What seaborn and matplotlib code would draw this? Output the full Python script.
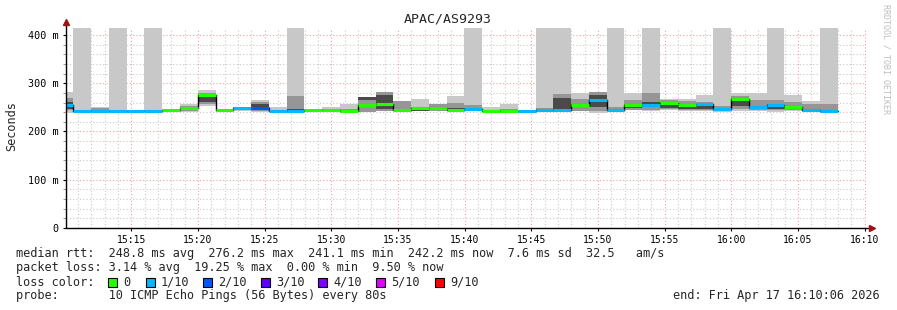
import numpy as np
import pandas as pd
import matplotlib
matplotlib.use("Agg")
import matplotlib.pyplot as plt
import matplotlib.dates as mdates
from matplotlib.patches import Rectangle
from matplotlib.ticker import MultipleLocator, FuncFormatter
import seaborn as sns

# ---------------- data ----------------
interval_start = pd.date_range("2026-04-17 15:09:19", periods=44, freq="80s")
step = pd.Timedelta(seconds=80)
view_start = pd.Timestamp("2026-04-17 15:10:06")
view_end = pd.Timestamp("2026-04-17 16:10:06")

median_ms = [254, 242, 242, 242, 242, 242, 244, 248, 276, 244, 248, 249, 243, 243,
             244, 244.5, 243, 255.5, 258, 244.5, 248, 248, 245, 247, 243, 243, 243.5, 245,
             245, 255, 264.5, 245, 254, 255, 259, 255, 256, 247, 266.5, 251, 255, 250,
             245, 242.5]
loss_pings = [1, 1, 1, 1, 1, 1, 0, 0, 0, 0, 1, 2, 1, 1, 0, 0, 0, 0, 0, 0, 0, 0,
              0, 1, 0, 0, 1, 1, 1, 0, 1, 1, 0, 1, 0, 0, 1, 1, 0, 1, 1, 0, 1, 1]
ping_min = [239, 240, 240, 240, 240, 240, 241, 241, 253, 241, 243, 241, 241, 241,
            242, 242, 241, 240, 242, 243, 242, 242, 242, 242, 241, 241, 241, 241,
            241, 243, 239, 241, 244, 242, 244, 242, 242, 241, 243, 242, 241, 243,
            241, 240]
ping_max = [281, 900, 250, 900, 244, 900, 246, 256, 285, 246, 251, 265, 250, 900,
            246, 250, 257, 272, 282, 264, 267, 256, 274, 900, 250, 257, 244, 900,
            900, 280, 281, 900, 279, 900, 268, 267, 276, 900, 279, 279, 900, 276,
            264, 900]
mid_lo = [244, 241, 241, 241, 241, 241, 242, 243, 258, 242, 244, 243, 242, 242,
          243, 243, 242, 241, 242, 243, 242, 242, 242, 243, 242, 242, 241.5, 242,
          242, 243, 242, 242, 245, 244, 246, 245, 245, 243, 247, 245, 244, 245,
          243, 241]
mid_hi = [270, 243, 248, 243, 243, 243, 245, 252, 280, 245, 250, 262, 245, 273,
          245, 247, 246, 272, 282, 264, 251, 256, 260, 255, 245, 246, 243.5, 248,
          278, 268, 281, 250, 265, 280, 265, 263, 262, 252, 274, 266, 265, 262,
          257, 256]
core_lo = [246, 241, 241, 241, 241, 241, 243, 244, 262, 243, 245, 245, 242, 242,
           243, 243, 242, 265, 246, 244, 243, 244, 244, 244, 242, 242, 242, 243,
           243, 250, 250, 243, 248, 250, 248, 247, 247, 244, 252, 246, 246, 246,
           243, 241]
core_hi = [262, 242, 243, 242, 242, 242, 244, 249, 276, 244, 248, 256, 243, 246,
           244, 245, 244, 271, 276, 246, 246, 250, 248, 248, 243, 244, 243, 246,
           270, 258, 276, 246, 256, 262, 259, 256, 257, 248, 270, 252, 256, 251,
           246, 243]

loss_labels = ["0", "1/10", "2/10", "3/10", "4/10", "5/10", "9/10"]
loss_colors = ["#26ff00", "#00b8ff", "#0059ff", "#5e00ff", "#7e00ff", "#dd00ff", "#ff0000"]
loss_bucket_of = {0: 0, 1: 1, 2: 2, 3: 3, 4: 4, 5: 5, 6: 5, 7: 5, 8: 5, 9: 6, 10: 6}

title = "APAC/AS9293"
stat_lines = [
    "median rtt:  248.8 ms avg  276.2 ms max  241.1 ms min  242.2 ms now  7.6 ms sd  32.5   am/s",
    "packet loss: 3.14 % avg  19.25 % max  0.00 % min  9.50 % now",
    "loss color:",
    "probe:       10 ICMP Echo Pings (56 Bytes) every 80s",
]
end_text = "end: Fri Apr 17 16:10:06 2026"
side_text = "RRDTOOL / TOBI OETIKER"

# ---------------- figure ----------------
sns.set_theme(style="white")
plt.rcParams['font.family'] = ['DejaVu Sans Mono', 'DejaVu Sans']

W, H = 897, 310
fig = plt.figure(figsize=(W / 100, H / 100), dpi=100)
fig.patch.set_facecolor("white")
ax = fig.add_axes([66 / W, 1 - 228 / H, 800 / W, 200 / H])
ax.set_facecolor("white")

edges = list(interval_start) + [interval_start[-1] + step]
ends = list(interval_start[1:]) + [interval_start[-1] + step]

def ext(v):
    return list(v) + [v[-1]]

ax.fill_between(edges, ext(ping_min), ext(ping_max), step="post",
                color="#c8c8c8", lw=0, zorder=2)
ax.fill_between(edges, ext(mid_lo), ext(mid_hi), step="post",
                color="#969696", lw=0, zorder=3)
ax.fill_between(edges, ext(core_lo), ext(core_hi), step="post",
                color="#4a4a4a", lw=0, zorder=4)

med_df = pd.DataFrame({"time": edges, "median": ext(median_ms)})
sns.lineplot(data=med_df, x="time", y="median", drawstyle="steps-post",
             color="black", lw=1.0, ax=ax, zorder=5)
seg_colors = [loss_colors[loss_bucket_of[n]] for n in loss_pings]
ax.hlines(median_ms, interval_start, ends, colors=seg_colors, lw=2.2, zorder=6)

ax.set_xlim(view_start, view_end)
ax.set_ylim(0, 414.5)

ax.xaxis.set_major_locator(mdates.MinuteLocator(byminute=range(0, 60, 5)))
ax.xaxis.set_minor_locator(mdates.MinuteLocator())
ax.xaxis.set_major_formatter(mdates.DateFormatter("%H:%M"))
ax.yaxis.set_major_locator(MultipleLocator(100))
ax.yaxis.set_minor_locator(MultipleLocator(20))
ax.yaxis.set_major_formatter(FuncFormatter(lambda v, p: "0" if v == 0 else f"{int(v)} m"))

ax.grid(which="minor", color="#c8c8c8", lw=0.8, ls=(0, (1, 2)), zorder=1)
ax.grid(which="major", color="#f0a0a0", lw=0.8, ls=(0, (1, 2)), zorder=1)

for s in ["top", "right", "left", "bottom"]:
    ax.spines[s].set_visible(False)
ax.plot([0, 0], [0, 1.03], color="black", lw=1, transform=ax.transAxes, clip_on=False, zorder=7)
ax.plot([0, 1.005], [0, 0], color="black", lw=1, transform=ax.transAxes, clip_on=False, zorder=7)
ax.plot([0], [1.03], marker="^", ms=4, color="#a01010", transform=ax.transAxes, clip_on=False, zorder=8)
ax.plot([1.007], [0], marker=">", ms=4, color="#a01010", transform=ax.transAxes, clip_on=False, zorder=8)

ax.tick_params(axis="x", which="major", length=2, width=0.8, pad=3.2, labelsize=7, colors="black", bottom=True)
ax.tick_params(axis="x", which="minor", length=0, bottom=True)
ax.tick_params(axis="y", which="major", length=2, width=0.8, pad=3.5, labelsize=7.3, colors="black", left=True)
ax.tick_params(axis="y", which="minor", length=2, width=0.6, left=True, color="#888888")
ax.set_xlabel("")
ax.set_ylabel("")

mono = "DejaVu Sans Mono"
fig.text(448 / W, 1 - 19.5 / H, title, ha="center", va="center", fontsize=9.5, family=mono)
fig.text(12 / W, 1 - 126 / H, "Seconds", ha="center", va="center", rotation=90,
         fontsize=8.6, family=mono)
fig.text(886 / W, 1 - 59 / H, side_text, ha="center", va="center", rotation=270,
         fontsize=6, family=mono, color="#bdbdbd")

line_y = [254, 268, 282, 296]
for txt, yy in zip(stat_lines, line_y):
    fig.text(16 / W, 1 - yy / H, txt, ha="left", va="center", fontsize=8.6, family=mono)
fig.text(880 / W, 1 - 296 / H, end_text, ha="right", va="center", fontsize=8.6, family=mono)

box_x = [108, 146, 203, 261, 318, 376, 435]
for bx, lab, col in zip(box_x, loss_labels, loss_colors):
    fig.add_artist(Rectangle((bx / W, 1 - 286.5 / H), 8.5 / W, 8.5 / H,
                             transform=fig.transFigure, facecolor=col,
                             edgecolor="black", lw=0.8))
    fig.text((bx + 15) / W, 1 - 282 / H, lab, ha="left", va="center",
             fontsize=8.6, family=mono)

fig.savefig("out.png", dpi=100, facecolor="white")
